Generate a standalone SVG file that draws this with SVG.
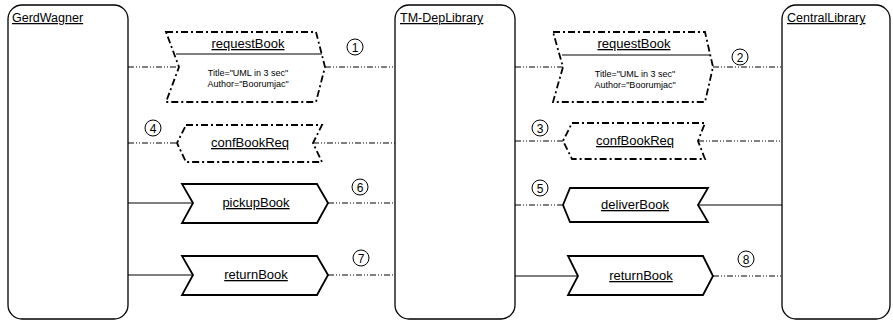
<svg xmlns="http://www.w3.org/2000/svg" width="893" height="321" viewBox="0 0 893 321">
<style>
.box{fill:#fff;stroke:#000;stroke-width:1.3}
.title{font-family:"Liberation Sans",Arial,sans-serif;font-size:12.5px;text-decoration:underline;fill:#000}
.sig{fill:#fff;stroke:#000;stroke-width:1.8;stroke-linejoin:miter}
.dsig{fill:#fff;stroke:#000;stroke-width:1.8;stroke-dasharray:7 3 2 3}
.name{font-family:"Liberation Sans",Arial,sans-serif;font-size:13px;text-decoration:underline;text-anchor:middle;fill:#000}
.attr{font-family:"Liberation Sans",Arial,sans-serif;font-size:9px;text-anchor:middle;fill:#000}
.dd{fill:none;stroke:#000;stroke-width:1;stroke-dasharray:6 2 1 2 1 2}
.sl{fill:none;stroke:#000;stroke-width:1.2}
.num circle{fill:#fff;stroke:#000;stroke-width:1}
.num text{font-family:"Liberation Sans",Arial,sans-serif;font-size:12px;text-anchor:middle;fill:#000}
.div{stroke:#000;stroke-width:1}
</style>
<g id="connectors">
<line class="dd" x1="128" y1="67" x2="179" y2="67"/>
<line class="dd" x1="325" y1="67" x2="395" y2="67"/>
<line class="dd" x1="128" y1="143" x2="177" y2="143"/>
<line class="dd" x1="313" y1="143" x2="395" y2="143"/>
<line class="sl" x1="128" y1="203" x2="193" y2="203"/>
<line class="dd" x1="328" y1="203" x2="395" y2="203"/>
<line class="sl" x1="128" y1="275" x2="193" y2="275"/>
<line class="dd" x1="328" y1="275" x2="395" y2="275"/>
<line class="dd" x1="515" y1="67" x2="563" y2="67"/>
<line class="dd" x1="713" y1="67" x2="782" y2="67"/>
<line class="dd" x1="515" y1="141" x2="563" y2="141"/>
<line class="dd" x1="698" y1="141" x2="782" y2="141"/>
<line class="dd" x1="515" y1="205" x2="563" y2="205"/>
<line class="sl" x1="698" y1="205" x2="782" y2="205"/>
<line class="sl" x1="515" y1="276" x2="578" y2="276"/>
<line class="dd" x1="713" y1="276" x2="782" y2="276"/>
</g>
<g id="GerdWagner">
<rect class="box" x="8" y="5" width="120" height="314" rx="14"/>
<text class="title" x="12" y="22">GerdWagner</text>
</g>
<g id="TM-DepLibrary">
<rect class="box" x="395" y="5" width="120" height="314" rx="14"/>
<text class="title" x="400" y="22">TM-DepLibrary</text>
</g>
<g id="CentralLibrary">
<rect class="box" x="782" y="5" width="108" height="314" rx="14"/>
<text class="title" x="787" y="22">CentralLibrary</text>
</g>
<g id="requestBook1">
<path class="dsig" d="M166 32 L316 32 L325 67 L316 102 L166 102 L179 67 Z"/>
<line class="div" x1="176" y1="54" x2="322" y2="54"/>
<text class="name" x="248" y="48">requestBook</text>
<text class="attr" x="248" y="76">Title="UML in 3 sec"</text>
<text class="attr" x="248" y="87">Author="Boorumjac"</text>
</g>
<g id="confBookReq1">
<path class="dsig" d="M186 125 L322 125 L313 143 L322 162 L186 162 L177 143 Z"/>
<text class="name" x="250" y="147">confBookReq</text>
</g>
<g id="pickupBook">
<path class="sig" d="M182 184 L317 184 L328 203 L317 223 L182 223 L193 203 Z"/>
<text class="name" x="256" y="207">pickupBook</text>
</g>
<g id="returnBook1">
<path class="sig" d="M182 256 L317 256 L328 275 L317 295 L182 295 L193 275 Z"/>
<text class="name" x="256" y="279">returnBook</text>
</g>
<g id="requestBook2">
<path class="dsig" d="M553 32 L705 32 L713 67 L705 102 L553 102 L563 67 Z"/>
<line class="div" x1="562" y1="55" x2="710" y2="55"/>
<text class="name" x="634" y="48">requestBook</text>
<text class="attr" x="635" y="77">Title="UML in 3 sec"</text>
<text class="attr" x="635" y="88">Author="Boorumjac"</text>
</g>
<g id="confBookReq2">
<path class="dsig" d="M572 123 L705 123 L698 141 L705 159 L572 159 L563 141 Z"/>
<text class="name" x="635" y="145">confBookReq</text>
</g>
<g id="deliverBook">
<path class="sig" d="M570 188 L708 188 L698 205 L708 222 L570 222 L563 205 Z"/>
<text class="name" x="635" y="209">deliverBook</text>
</g>
<g id="returnBook2">
<path class="sig" d="M568 256 L703 256 L713 276 L703 295 L568 295 L578 276 Z"/>
<text class="name" x="641" y="280">returnBook</text>
</g>
<g class="num" id="numbers">
<circle cx="355" cy="47" r="8"/><text x="355" y="51.5">1</text>
<circle cx="740" cy="57" r="8"/><text x="740" y="61.5">2</text>
<circle cx="540" cy="128" r="8"/><text x="540" y="132.5">3</text>
<circle cx="153" cy="128" r="8"/><text x="153" y="132.5">4</text>
<circle cx="540" cy="188" r="8"/><text x="540" y="192.5">5</text>
<circle cx="360" cy="187" r="8"/><text x="360" y="191.5">6</text>
<circle cx="361" cy="258" r="8"/><text x="361" y="262.5">7</text>
<circle cx="746" cy="259" r="8"/><text x="746" y="263.5">8</text>
</g>
</svg>
